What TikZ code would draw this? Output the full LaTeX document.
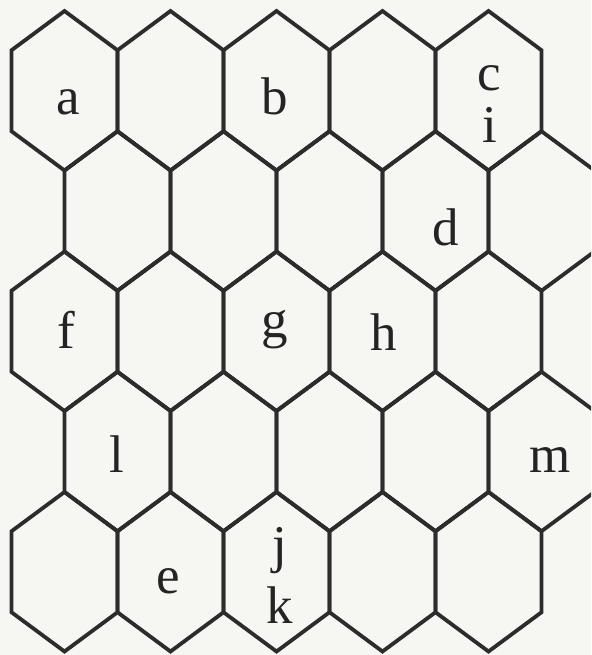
\documentclass[tikz,border=0pt]{standalone}
\usepackage{fontspec}
\setmainfont{Liberation Serif}
\definecolor{bgcol}{RGB}{246,247,243}
\definecolor{linecol}{RGB}{44,44,44}
\definecolor{textcol}{RGB}{36,36,36}
\tikzset{
  hexline/.style={draw=linecol, line width=3.8pt, line join=miter},
  lab/.style={anchor=base, inner sep=0pt, text=textcol, font=\fontsize{53}{57}\selectfont}
}
\newcommand{\hexat}[2]{%
  \draw[hexline] (#1,#2-79.75) -- (#1+53,#2-40.5) -- (#1+53,#2+40.5) -- (#1,#2+79.75) -- (#1-53,#2+40.5) -- (#1-53,#2-40.5) -- cycle;}
\begin{document}
\begin{tikzpicture}[x=1pt,y=-1pt]
\fill[bgcol] (0,0) rectangle (591,655);
\useasboundingbox (0,0) rectangle (591,655);
\begin{scope}
\clip (0,0) rectangle (591,655);
\foreach \yy in {90.75,331.25,571.75}{
  \foreach \xx in {64.5,170.5,276.5,382.5,488.5}{\hexat{\xx}{\yy}}}
\foreach \yy in {211,451.5}{
  \foreach \xx in {117.5,223.5,329.5,435.5,541.5}{\hexat{\xx}{\yy}}}
\end{scope}
\node[lab] (la) at (68,115) {a};
\node[lab] (lb) at (275,115) {b};
\node[lab] (lc) at (489,91) {c};
\node[lab] (li) at (490,143) {i};
\node[lab] (ld) at (446,245) {d};
\node[lab] (lf) at (66,348) {f};
\node[lab] (lg) at (275,337) {g};
\node[lab] (lh) at (384,350) {h};
\node[lab] (ll) at (117,472) {l};
\node[lab] (lm) at (550,472) {m};
\node[lab] (le) at (168,593) {e};
\node[lab] (lj) at (280,562) {j};
\node[lab] (lk) at (280,623) {k};
\end{tikzpicture}
\end{document}
